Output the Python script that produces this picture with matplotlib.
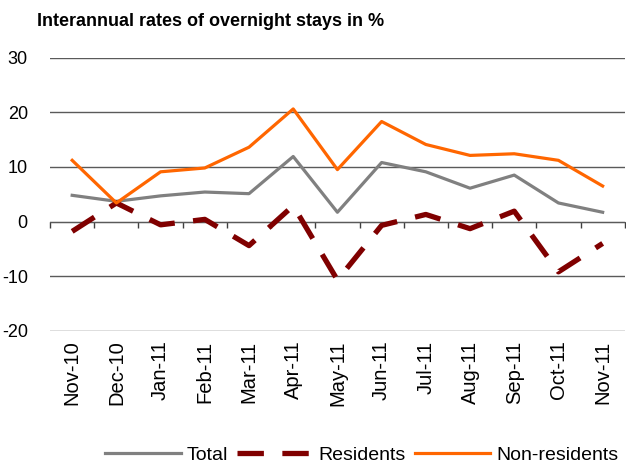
import matplotlib
matplotlib.use("Agg")
import matplotlib.pyplot as plt
import numpy as np

plt.rcParams['font.family'] = ['Liberation Sans', 'DejaVu Sans']

categories = ["Nov-10", "Dec-10", "Jan-11", "Feb-11", "Mar-11", "Apr-11", "May-11",
              "Jun-11", "Jul-11", "Aug-11", "Sep-11", "Oct-11", "Nov-11"]
total = [4.8, 3.7, 4.7, 5.4, 5.1, 11.9, 1.7, 10.8, 9.1, 6.1, 8.5, 3.4, 1.7]
residents = [-1.8, 3.4, -0.6, 0.4, -4.4, 2.9, -10.7, -0.7, 1.3, -1.3, 1.9, -9.2, -4.0]
non_residents = [11.2, 3.4, 9.1, 9.8, 13.6, 20.6, 9.5, 18.3, 14.1, 12.1, 12.4, 11.2, 6.5]
yticks = [-20, -10, 0, 10, 20, 30]

fig = plt.figure(figsize=(6.26, 4.68), dpi=100)
ax = fig.add_axes([0.08, 0.293, 0.918, 0.584])

x = np.arange(len(categories))
ax.plot(x, total, color='#808080', lw=2.3, label='Total', zorder=3)
ax.plot(x, residents, color='#800000', lw=3.8, dashes=(5, 3.5), label='Residents', zorder=3)
ax.plot(x, non_residents, color='#ff6600', lw=2.3, label='Non-residents', zorder=3)

ax.set_xlim(-0.5, len(categories) - 0.5)
ax.set_ylim(-20, 30)
ax.set_yticks(yticks)
ax.set_yticklabels([str(v) for v in yticks], fontsize=13)
ax.tick_params(axis='y', length=0, pad=16)
ax.yaxis.grid(True, color='#5a5a5a', lw=1.0)
ax.set_axisbelow(True)

for s in ['top', 'right', 'left']:
    ax.spines[s].set_visible(False)
ax.spines['bottom'].set_position(('data', 0))
ax.spines['bottom'].set_color('#5a5a5a')
ax.set_xticks(np.arange(-0.5, len(categories), 1.0))
ax.set_xticklabels([])
ax.tick_params(axis='x', direction='out', length=4, color='#404040', width=1)

for i, c in enumerate(categories):
    ax.text(i, -0.035, c, transform=ax.get_xaxis_transform(), rotation=90,
            ha='center', va='top', fontsize=14.5)

fig.text(0.059, 0.955, "Interannual rates of overnight stays in %", fontsize=13,
         fontweight='bold', ha='left', va='center')

leg = fig.legend(loc='lower center', bbox_to_anchor=(0.578, -0.028), ncol=3, frameon=False,
                 fontsize=14, handlelength=3.9, columnspacing=0.45, handletextpad=0.3)

fig.savefig("out.png", dpi=100)
